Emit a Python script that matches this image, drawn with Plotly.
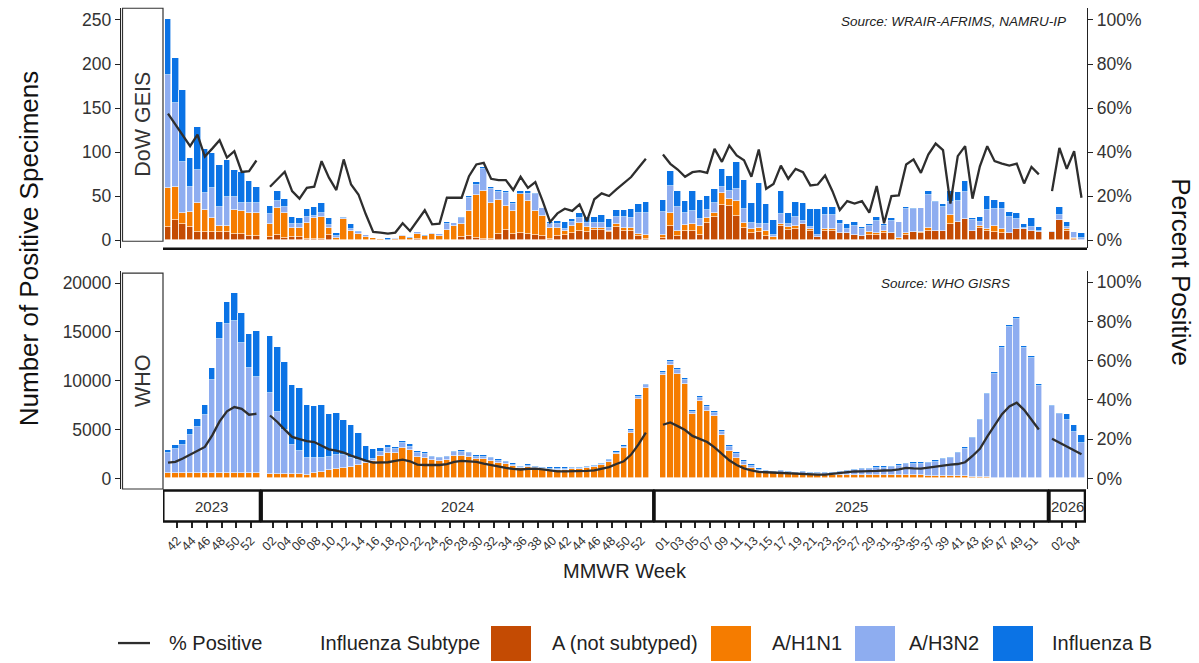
import plotly.graph_objects as go

W, H = 1199, 663

# ---------------------------------------------------------------- data
YEARS = ["2023", "2024", "2025", "2026"]
# MMWR weeks plotted in each year panel (week 53 of 2025 ends in January 2026)
WEEKS = {
    "2023": list(range(40, 53)),
    "2024": list(range(1, 53)),
    "2025": list(range(1, 53)),
    "2026": [53, 1, 2, 3, 4],
}
TICK_WEEKS = {
    "2023": list(range(42, 53, 2)),
    "2024": list(range(2, 53, 2)),
    "2025": list(range(1, 52, 2)),
    "2026": [2, 4],
}
COUNT_TICKS_GEIS = [0, 50, 100, 150, 200, 250]
COUNT_TICKS_WHO = [0, 5000, 10000, 15000, 20000]
PCT_TICKS = [0, 20, 40, 60, 80, 100]

# DoW GEIS positive specimens by subtype (2023 wk40 ... 2026 wk04)
geis_a = [
    15, 23, 19, 15, 9, 9, 9, 9, 9, 7, 7, 5, 5,
    4, 6, 3, 4, 4, 1, 1, 1, 6, 0, 0, 0, 0, 0, 0, 0, 0, 0, 0, 0, 2, 0, 0, 0, 0, 0,
    4, 5, 3, 1, 2, 7, 12, 7, 8, 7, 6, 5, 1, 5, 6, 8, 11, 9, 12, 12, 9, 15, 11, 11, 5, 1,
    3, 16, 5, 10, 10, 6, 20, 26, 40, 39, 28, 14, 8, 9, 5, 0, 16, 12, 13, 19, 11, 4, 11, 11, 8, 8,
    6, 5, 6, 6, 8, 8, 0, 6, 9, 8, 11, 11, 10, 19, 21, 24, 10, 14, 11, 9, 8, 8, 13, 13, 11, 9,
    9, 23, 11, 1, 0,
]
geis_h1n1 = [
    44, 37, 12, 17, 33, 25, 16, 7, 7, 27, 26, 26, 26,
    15, 31, 28, 10, 10, 19, 24, 25, 8, 3, 24, 11, 7, 4, 3, 2, 0, 2, 5, 3, 5, 5, 7, 5, 12, 16,
    15, 28, 48, 55, 40, 39, 27, 26, 44, 38, 27, 23, 13, 9, 5, 8, 9, 6, 2, 2, 2, 3, 3, 3, 2, 5,
    3, 15, 5, 7, 9, 10, 5, 5, 14, 8, 17, 6, 5, 5, 6, 4, 3, 3, 3, 0, 2, 0, 2, 2, 0, 0,
    0, 0, 3, 2, 2, 0, 3, 2, 0, 1, 3, 0, 0, 10, 0, 0, 0, 2, 2, 7, 5, 0, 0, 0, 0, 0,
    0, 0, 2, 2, 0,
]
geis_h3n2 = [
    129, 96, 58, 28, 38, 20, 34, 22, 33, 15, 9, 11, 11,
    11, 8, 7, 5, 4, 7, 3, 5, 3, 2, 1, 2, 2, 2, 0, 0, 0, 1, 1, 0, 2, 0, 1, 2, 7, 4,
    6, 15, 12, 25, 16, 9, 15, 8, 1, 8, 19, 9, 5, 5, 2, 5, 5, 5, 6, 6, 3, 8, 12, 11, 24, 25,
    26, 31, 28, 14, 14, 8, 9, 11, 7, 9, 13, 15, 7, 5, 8, 2, 11, 4, 11, 3, 2, 2, 16, 16, 10, 5,
    10, 8, 7, 14, 6, 14, 18, 28, 26, 28, 37, 32, 28, 15, 24, 31, 13, 5, 21, 19, 23, 19, 11, 1, 4, 2,
    1, 6, 2, 6, 3,
]
geis_b = [
    63, 51, 82, 33, 49, 50, 40, 48, 42, 31, 35, 25, 18,
    9, 11, 9, 8, 7, 9, 10, 11, 8, 3, 1, 5, 2, 0, 0, 0, 3, 0, 0, 1, 0, 1, 0, 0, 2, 0,
    2, 2, 3, 2, 3, 2, 2, 3, 3, 3, 2, 0, 2, 3, 8, 3, 6, 6, 7, 9, 10, 8, 8, 11, 10, 13,
    14, 17, 18, 14, 23, 22, 16, 16, 20, 17, 31, 33, 22, 46, 22, 17, 26, 12, 16, 20, 20, 29, 9, 9, 5, 5,
    5, 2, 2, 5, 3, 3, 0, 2, 2, 0, 5, 2, 3, 12, 10, 12, 2, 5, 16, 11, 8, 5, 7, 5, 10, 4,
    0, 9, 6, 0, 5,
]
geis_pct = [
    57.5, 52.5, 47.5, 42.7, 48.0, 38.0, 41.6, 45.4, 37.5, 40.4, 31.0, 31.4, 36.2,
    24.3, 27.6, 31.1, 22.3, 18.9, 23.8, 24.3, 35.9, 28.4, 22.8, 36.7, 25.3, 20.8,
    11.8, 3.8, 3.5, 3.0, 3.5, 7.7, 4.2, 9.2, 13.6, 7.2, 7.5, 19.3, 19.3, 19.3, 29.1,
    34.4, 35.1, 27.9, 27.3, 27.3, 22.8, 28.8, 23.8, 26.4, 17.8, 8.3, 12.2, 14.3, 13.3,
    16.3, 8.7, 18.6, 21.3, 20.1, 23.1, 26.1, 28.7, 32.9, 37.0,
    38.9, 34.7, 32.1, 28.8, 30.9, 31.4, 30.6, 41.5, 35.6, 43.0, 38.5, 36.3, 28.8,
    41.2, 23.4, 25.6, 33.9, 27.9, 32.4, 30.9, 24.9, 25.3, 29.4, 22.3, 13.7, 17.8, 16.7,
    17.8, 12.5, 24.6, 7.7, 20.1, 20.4, 34.4, 36.7, 30.6, 38.9, 43.9, 40.9, 16.7, 38.2,
    42.7, 18.9, 33.6, 42.7, 35.9, 34.8, 33.9, 34.8, 25.8, 33.3, 29.9,
    22.3, 41.9, 32.4, 40.4, 19.3,
]

# WHO GISRS positive specimens by subtype
who_a = [0] * 122
who_h1n1 = [
    510, 510, 510, 510, 510, 510, 510, 520, 520, 540, 530, 510, 510,
    408, 408, 408, 408, 408, 340, 510, 612, 850, 952, 1088, 1190, 1361, 1531, 1769, 2313,
    2551, 2619, 3061, 2857, 2211, 2041, 1871, 1769, 1871, 2313, 2313, 2143, 1939, 1939,
    1803, 1599, 1463, 1259, 1054, 1156, 1054, 952, 884, 884, 884, 952, 952, 1020, 1122,
    1361, 1701, 2483, 3095, 4694, 8163, 9286,
    10544, 11565, 10714, 9694, 6565, 7891, 6871, 6395, 4422, 2823, 2109, 1361, 1088, 782,
    612, 578, 578, 510, 476, 476, 442, 408, 374, 374, 374, 340, 340, 340, 340, 340, 340,
    340, 340, 340, 340, 306, 272, 272, 272, 238, 238, 204, 170, 136, 102, 68, 68, 68, 68,
    68, 68, 68,
    50, 50, 50, 50, 50,
]
who_h3n2 = [
    2041, 2483, 2891, 3912, 4762, 5953, 9592, 13698, 15296, 15616, 13348, 10783, 9864,
    8368, 6395, 4524, 2993, 2381, 1769, 1531, 1497, 1361, 1429, 1293, 919, 510, 272, 204,
    408, 510, 340, 510, 374, 408, 408, 272, 272, 272, 340, 408, 408, 272, 272, 238, 204,
    204, 136, 102, 137, 102, 102, 102, 102, 102, 102, 102, 102, 102, 102, 136, 136, 136,
    170, 170, 238,
    272, 340, 340, 408, 238, 340, 408, 272, 340, 340, 340, 340, 205, 102, 170, 102, 170,
    102, 102, 136, 136, 136, 170, 136, 306, 442, 510, 578, 612, 748, 748, 782, 953, 1089,
    1157, 1191, 1259, 1395, 1701, 1837, 2347, 2823, 3980, 5850, 8503, 10646, 13265, 15476,
    16259, 13299, 12279, 9388,
    7331, 6515, 5902, 4712, 3521,
]
who_b = [
    340, 408, 545, 680, 850, 1020, 1225, 1836, 2211, 2790, 3027, 3503, 4694,
    5748, 6632, 6973, 6191, 6497, 5442, 5340, 5442, 4354, 4320, 3639, 3333, 2823, 1530,
    1020, 408, 340, 272, 272, 272, 204, 204, 170, 170, 170, 170, 170, 170, 170, 170, 170,
    136, 136, 136, 137, 136, 137, 136, 136, 136, 136, 136, 136, 137, 137, 136, 136, 170,
    170, 170, 170, 170,
    170, 238, 239, 204, 170, 204, 204, 204, 238, 238, 204, 170, 170, 136, 102, 102, 102,
    102, 102, 102, 102, 102, 102, 102, 102, 102, 102, 102, 136, 136, 136, 137, 136, 136,
    136, 136, 136, 170, 136, 136, 136, 136, 136, 136, 171, 170, 170, 170, 170, 170, 170, 170,
    170, 170, 613, 748, 919,
]
who_pct = [
    8.1, 8.5, 10.2, 12.2, 14.0, 16.1, 22.0, 29.1, 34.2, 36.4, 35.5, 32.5, 33.0,
    32.1, 28.8, 24.9, 21.2, 20.1, 19.1, 18.6, 16.8, 14.9, 14.2, 13.2, 11.7, 10.2, 9.1,
    8.1, 8.1, 8.3, 9.0, 9.6, 8.8, 7.1, 6.9, 6.8, 6.9, 7.4, 8.5, 9.0, 8.8, 8.5, 7.6, 6.8,
    5.9, 5.4, 4.9, 4.6, 4.9, 5.1, 4.7, 4.2, 3.7, 3.7, 3.7, 3.7, 3.9, 4.2, 4.9, 5.8, 7.4,
    8.8, 12.2, 17.4, 23.4,
    27.4, 28.6, 26.7, 24.7, 21.7, 20.3, 18.6, 15.9, 12.5, 9.3, 6.9, 5.2, 4.1, 3.4, 3.2,
    3.0, 2.9, 2.7, 2.4, 2.2, 2.0, 2.0, 2.0, 2.4, 3.0, 3.4, 3.6, 3.7, 3.7, 3.9, 4.1, 4.2,
    4.7, 5.4, 5.2, 5.1, 5.6, 6.1, 6.8, 7.1, 7.4, 8.3, 11.5, 15.1, 21.3, 27.1, 32.8, 36.7,
    38.6, 35.0, 30.1, 25.0,
    20.3, 18.4, 16.6, 14.7, 12.4,
]

SUBTYPES = ["A (not subtyped)", "A/H1N1", "A/H3N2", "Influenza B"]
COLORS = ["#C44B03", "#F57C00", "#8EADF0", "#0B73E5"]
LINE_COLOR = "#2E2E2E"
FONT = "Liberation Sans, Arial, sans-serif"

# ---------------------------------------------------------------- layout helpers
def fx(p):
    return p / W


def fy(p):
    return 1 - p / H


# panel geometry on the shared week axis (one unit = one week)
FACET_START = {"2023": 0.0, "2024": 13.84, "2025": 67.16, "2026": 119.95}
FACET_BOX = {"2023": (-0.64, 12.48), "2024": (12.71, 65.85),
             "2025": (66.01, 119.40), "2026": (119.60, 124.42)}
TICK_SHIFT = {"2023": -0.74, "2024": -0.63, "2025": 0.38, "2026": -0.69}

xpos, seg_id = [], []
for yr in YEARS:
    for i, _ in enumerate(WEEKS[yr]):
        xpos.append(FACET_START[yr] + i)
        seg_id.append(yr)

tickvals, ticktext = [], []
for yr in YEARS:
    for wk in TICK_WEEKS[yr]:
        idx = WEEKS[yr].index(wk)
        tickvals.append(FACET_START[yr] + idx + TICK_SHIFT[yr])
        ticktext.append(f"{wk:02d}")


def broken(values):
    """Line coordinates with a break between year panels."""
    xs, ys = [], []
    prev = None
    for x, v, s in zip(xpos, values, seg_id):
        if prev is not None and s != prev:
            xs.append(None)
            ys.append(None)
        xs.append(x)
        ys.append(v)
        prev = s
    return xs, ys


fig = go.Figure()

panels = [
    ("y", "y2", [geis_a, geis_h1n1, geis_h3n2, geis_b], geis_pct),
    ("y3", "y4", [who_a, who_h1n1, who_h3n2, who_b], who_pct),
]
for ybar, yline, series, pct in panels:
    for name, vals, col in zip(SUBTYPES, series, COLORS):
        fig.add_trace(go.Bar(
            x=xpos, y=vals, name=name, width=0.88,
            marker=dict(color=col, line=dict(color="white", width=0.6)),
            xaxis="x", yaxis=ybar, showlegend=False,
            hovertemplate=name + ": %{y}<extra></extra>",
        ))
    lx, ly = broken(pct)
    fig.add_trace(go.Scatter(
        x=lx, y=ly, mode="lines", name="% Positive",
        line=dict(color=LINE_COLOR, width=2.3),
        xaxis="x", yaxis=yline, showlegend=False, connectgaps=False,
    ))

axis_common = dict(
    showgrid=False, zeroline=False, ticks="outside", ticklen=5, tickwidth=1.3,
    tickcolor="#222", showline=True, linecolor="#222", linewidth=1.4,
    tickmode="array", tickfont=dict(family=FONT, size=17.5, color="#333"),
)
pct_text = [f"{v}%" for v in PCT_TICKS]

top_rng = [(241 - 249) / 0.884, (241 - 8) / 0.884]
bot_rng = [(480 - 490) / 0.0098, (480 - 272) / 0.0098]

fig.update_layout(
    width=W, height=H, autosize=False,
    margin=dict(l=0, r=0, t=0, b=0),
    paper_bgcolor="white", plot_bgcolor="rgba(0,0,0,0)",
    barmode="stack", bargap=0,
    font=dict(family=FONT, color="#222"),
    xaxis=dict(
        domain=[fx(163), fx(1086)], range=[-0.678, 124.56],
        anchor="free", position=fy(523),
        tickmode="array", tickvals=tickvals, ticktext=ticktext, tickangle=-45,
        ticks="outside", ticklen=6, tickwidth=1.6, tickcolor="#222",
        showline=False, showgrid=False, zeroline=False,
        tickfont=dict(family=FONT, size=12.5, color="#333"),
    ),
    yaxis=dict(domain=[fy(249), fy(8)], range=top_rng, anchor="free", position=fx(120),
               tickvals=COUNT_TICKS_GEIS, ticktext=[str(v) for v in COUNT_TICKS_GEIS],
               **axis_common),
    yaxis2=dict(overlaying="y", side="right", anchor="free", position=fx(1087),
                range=[top_rng[0] / 2.5, top_rng[1] / 2.5],
                tickvals=PCT_TICKS, ticktext=pct_text, **axis_common),
    yaxis3=dict(domain=[fy(490), fy(272)], range=bot_rng, anchor="free", position=fx(120),
                tickvals=COUNT_TICKS_WHO, ticktext=[str(v) for v in COUNT_TICKS_WHO],
                **axis_common),
    yaxis4=dict(overlaying="y3", side="right", anchor="free", position=fx(1087),
                range=[(480 - 490) / 1.97, (480 - 272) / 1.97],
                tickvals=PCT_TICKS, ticktext=pct_text, **axis_common),
)

shapes = []
annotations = []


def note(text, x, y, size, xanchor="center", yanchor="middle", angle=0, xref="paper",
         color="#222"):
    annotations.append(dict(text=text, xref=xref, yref="paper", x=x, y=y,
                            xanchor=xanchor, yanchor=yanchor, textangle=angle,
                            showarrow=False, font=dict(size=size, color=color)))


# base line under the DoW GEIS panel
shapes.append(dict(type="line", xref="paper", yref="paper",
                   x0=fx(163), x1=fx(1087), y0=fy(249.5), y1=fy(249.5),
                   line=dict(color="#111", width=2.4)))

# row strips on the left
for label, top, bottom in [("DoW GEIS", 8.3, 242), ("WHO", 274, 490.5)]:
    shapes.append(dict(type="rect", xref="paper", yref="paper",
                       x0=fx(122.5), x1=fx(163), y0=fy(bottom), y1=fy(top),
                       line=dict(color="#333", width=1.2), fillcolor="white"))
    note(label, fx(143), fy((top + bottom) / 2), 21.5, angle=-90, color="#333")

# year strips below the WHO panel
for yr in YEARS:
    x0, x1 = FACET_BOX[yr]
    shapes.append(dict(type="rect", xref="x", yref="paper",
                       x0=x0, x1=x1, y0=fy(523), y1=fy(492),
                       line=dict(color="#111", width=2.5), fillcolor="white"))
    note(yr, (x0 + x1) / 2, fy(508), 15, xref="x", color="#333")

# sources
note("<i>Source: WRAIR-AFRIMS, NAMRU-IP</i>", fx(1068), fy(22), 13.5, xanchor="right")
note("<i>Source: WHO GISRS</i>", fx(1012), fy(284), 13.5, xanchor="right")

# axis titles
note("Number of Positive Specimens", fx(29), fy(250), 26, angle=-90, color="#111")
note("Percent Positive", fx(1181), fy(273), 26, angle=90, color="#111")
note("MMWR Week", fx(625), fy(573), 20)

# legend
LEG_Y = 645
shapes.append(dict(type="line", xref="paper", yref="paper",
                   x0=fx(118), x1=fx(150), y0=fy(LEG_Y), y1=fy(LEG_Y),
                   line=dict(color=LINE_COLOR, width=2.3)))
note("% Positive", fx(167), fy(LEG_Y), 20, xanchor="left")
note("Influenza Subtype", fx(318), fy(LEG_Y), 20, xanchor="left")
swatch_x = [491, 711, 855, 993]
label_x = [550, 770, 907, 1050]
for name, col, sx, lxp in zip(SUBTYPES, COLORS, swatch_x, label_x):
    shapes.append(dict(type="rect", xref="paper", yref="paper",
                       x0=fx(sx), x1=fx(sx + 40), y0=fy(663), y1=fy(628),
                       line=dict(width=0), fillcolor=col))
    note(name, fx(lxp), fy(LEG_Y), 20, xanchor="left")

fig.update_layout(shapes=shapes, annotations=annotations)

fig.write_html("out.html")
